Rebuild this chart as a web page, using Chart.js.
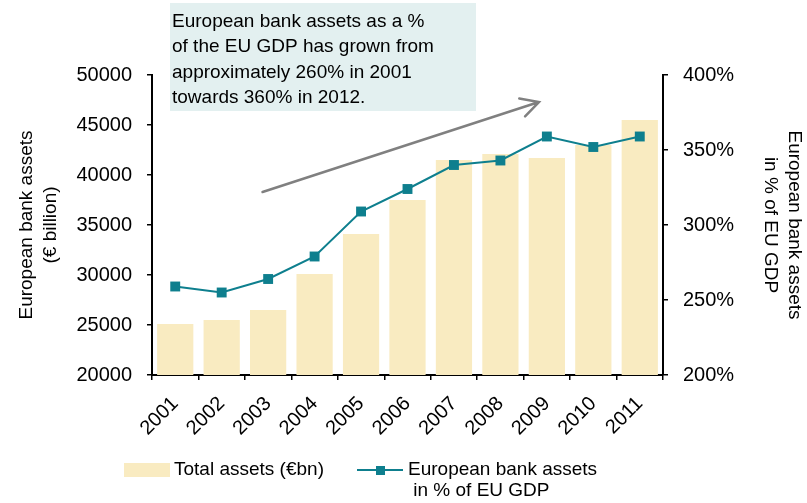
<!DOCTYPE html>
<html>
<head>
<meta charset="utf-8">
<script src="https://cdn.jsdelivr.net/npm/chart.js@4/dist/chart.umd.min.js"></script>
<style>
  html, body { margin: 0; padding: 0; background: #fff; }
  #wrap { width: 807px; height: 503px; position: relative; }
</style>
</head>
<body>
<div id="wrap"><canvas id="chart" width="807" height="503"></canvas></div>
<script>
const years = ['2001', '2002', '2003', '2004', '2005', '2006', '2007', '2008', '2009', '2010', '2011'];
const totalAssets = [25100, 25500, 26500, 30100, 34100, 37500, 41500, 42100, 41700, 43000, 45500];
const assetsPctGdp = [259, 255, 264, 279, 309, 324, 340, 343, 359, 352, 359];

const barLabel = 'Total assets (€bn)';
const lineLabel = ['European bank assets', ' in % of EU GDP'];
const leftTitle = ['European bank assets', '(€ billion)'];
const rightTitle = ['European bank assets', 'in % of EU GDP'];
const noteLines = [
  'European bank assets as a %',
  'of the EU GDP has grown from',
  'approximately 260% in 2001',
  'towards 360% in 2012.'
];
// trend arrow, in axis units: [category index, % of GDP]
const arrowFrom = [1.88, 322];
const arrowTo = [7.83, 382];

const BAR = '#f9ebc1';
const TEAL = '#0e7f8e';
const FONT = '"Liberation Sans", Arial, sans-serif';

Chart.defaults.font.family = FONT;
Chart.defaults.color = '#000';

const extras = {
  id: 'extras',
  afterDraw(chart) {
    const ctx = chart.ctx;
    const x = chart.scales.x, y1 = chart.scales.y1;
    ctx.save();

    // note box
    ctx.fillStyle = '#e3f0f0';
    ctx.fillRect(170, 3, 306, 108);
    ctx.fillStyle = '#000';
    ctx.font = '19px ' + FONT;
    ctx.textBaseline = 'alphabetic';
    ctx.textAlign = 'left';
    noteLines.forEach((t, i) => ctx.fillText(t, 172, 27 + i * 25.4));

    // trend arrow
    const x0 = x.getPixelForValue(arrowFrom[0]), y0 = y1.getPixelForValue(arrowFrom[1]);
    const x1 = x.getPixelForValue(arrowTo[0]), y1p = y1.getPixelForValue(arrowTo[1]);
    const ang = Math.atan2(y1p - y0, x1 - x0);
    ctx.strokeStyle = '#808080';
    ctx.lineWidth = 2.5;
    ctx.lineCap = 'round';
    ctx.beginPath();
    ctx.moveTo(x0, y0);
    ctx.lineTo(x1, y1p);
    const head = 20, spread = 28 * Math.PI / 180;
    ctx.moveTo(x1 - head * Math.cos(ang - spread), y1p - head * Math.sin(ang - spread));
    ctx.lineTo(x1, y1p);
    ctx.lineTo(x1 - head * Math.cos(ang + spread), y1p - head * Math.sin(ang + spread));
    ctx.stroke();

    // legend
    ctx.font = '19px ' + FONT;
    ctx.textBaseline = 'middle';
    ctx.fillStyle = BAR;
    ctx.fillRect(124, 463, 46, 14);
    ctx.fillStyle = '#000';
    ctx.fillText(barLabel, 174, 470);

    ctx.strokeStyle = TEAL;
    ctx.lineWidth = 2;
    ctx.lineCap = 'butt';
    ctx.beginPath();
    ctx.moveTo(357, 470);
    ctx.lineTo(403, 470);
    ctx.stroke();
    ctx.fillStyle = TEAL;
    ctx.fillRect(376, 466, 9, 9);
    ctx.fillStyle = '#000';
    ctx.fillText(lineLabel[0], 408, 470);
    ctx.fillText(lineLabel[1], 408, 491);

    ctx.restore();
  }
};

new Chart(document.getElementById('chart'), {
  data: {
    labels: years,
    datasets: [
      {
        type: 'line',
        label: lineLabel.join(''),
        data: assetsPctGdp,
        yAxisID: 'y1',
        order: 0,
        borderColor: TEAL,
        borderWidth: 2,
        pointStyle: 'rect',
        pointRadius: 7,
        pointBorderWidth: 0,
        pointBackgroundColor: TEAL,
        tension: 0
      },
      {
        type: 'bar',
        label: barLabel,
        data: totalAssets,
        yAxisID: 'y',
        order: 1,
        backgroundColor: BAR,
        barPercentage: 0.78,
        categoryPercentage: 1
      }
    ]
  },
  options: {
    responsive: false,
    animation: false,
    layout: { padding: { top: 75, left: 0, right: 0, bottom: 0 } },
    plugins: {
      legend: { display: false },
      tooltip: { enabled: false }
    },
    scales: {
      x: {
        grid: { drawOnChartArea: false, drawTicks: true, tickLength: 5, color: '#000', lineWidth: 1.5, offset: true },
        border: { color: '#000', width: 2 },
        ticks: { minRotation: 45, maxRotation: 45, padding: 12, font: { size: 20 }, color: '#000' },
        afterFit: s => { s.height = 128; }
      },
      y: {
        position: 'left',
        min: 20000,
        max: 50000,
        grid: { drawOnChartArea: false, drawTicks: true, tickLength: 5, color: '#000', lineWidth: 1.5 },
        border: { color: '#000', width: 2 },
        ticks: { stepSize: 5000, padding: 15, font: { size: 20 }, color: '#000', callback: v => String(v) },
        title: {
          display: true,
          text: leftTitle,
          font: { size: 19, lineHeight: 1.3 },
          color: '#000',
          padding: { top: 14, bottom: 0 }
        },
        afterFit: s => { s.width = 152; }
      },
      y1: {
        position: 'right',
        min: 200,
        max: 400,
        grid: { drawOnChartArea: false, drawTicks: true, tickLength: 5, color: '#000', lineWidth: 1.5 },
        border: { color: '#000', width: 2 },
        ticks: { stepSize: 50, padding: 15, font: { size: 20 }, color: '#000', callback: v => v + '%' },
        title: {
          display: true,
          text: rightTitle,
          font: { size: 19, lineHeight: 1.3 },
          color: '#000',
          padding: { top: 0, bottom: 0 }
        },
        afterFit: s => { s.width = 144; }
      }
    }
  },
  plugins: [extras]
});
</script>
</body>
</html>
